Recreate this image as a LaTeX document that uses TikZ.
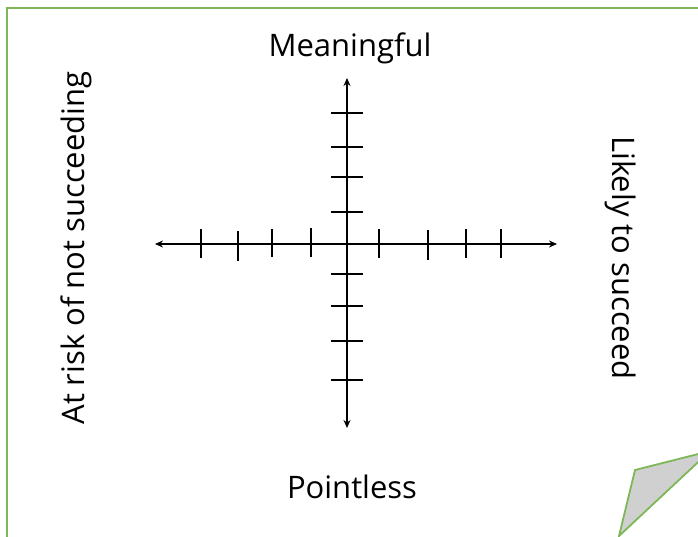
\documentclass[tikz,border=0pt]{standalone}
\usepackage{fontspec}
\setmainfont{Open Sans}
\usetikzlibrary{arrows.meta}
\definecolor{bordergreen}{HTML}{7DB757}
\definecolor{foldgray}{HTML}{D0D0D0}
\tikzset{
  axis/.style={line width=1.8pt, -{Stealth[length=8pt,width=7pt]}},
  tick/.style={line width=1.8pt},
  label/.style={font=\fontsize{31}{37}\selectfont, inner sep=0pt, anchor=base},
  frame/.style={draw=bordergreen, line width=1.8pt},
}
\begin{document}
\begin{tikzpicture}[x=1pt,y=-1pt]
\useasboundingbox (0,0) rectangle (698,536);
\clip (0,0) rectangle (698,536);
% page frame
\draw[frame] (7,560) -- (7,8) -- (720,8);
% folded corner
\draw[frame, fill=foldgray, line join=miter] (635,470) -- (710,451) -- (619,536) -- cycle;
% axes
\coordinate (o) at (347,244);
\coordinate (left) at (155,244);
\coordinate (right) at (557,244);
\coordinate (top) at (347,78);
\coordinate (bottom) at (347,428);
\draw[axis] (o) -- (left);
\draw[axis] (o) -- (right);
\draw[axis] (o) -- (top);
\draw[axis] (o) -- (bottom);
% horizontal ticks
\foreach \x/\a/\b in {201/229/258, 238/231/261, 272/229/257, 311/228/257, 379/229/258, 428/230/260, 466/229/258, 501/229/258}
  \draw[tick] (\x,\a) -- (\x,\b);
% vertical ticks
\foreach \y in {113,147,177,212,274,306,341,380}
  \draw[tick] (331,\y) -- (363,\y);
% labels
\node[label] (mean) at (350,56) {Meaningful};
\node[label] (point) at (352,498) {Pointless};
\node[label, rotate=90] (risk) at (84,248) {At risk of not succeeding};
\node[label, rotate=-90] (likely) at (612,258) {Likely to succeed};
\end{tikzpicture}
\end{document}
